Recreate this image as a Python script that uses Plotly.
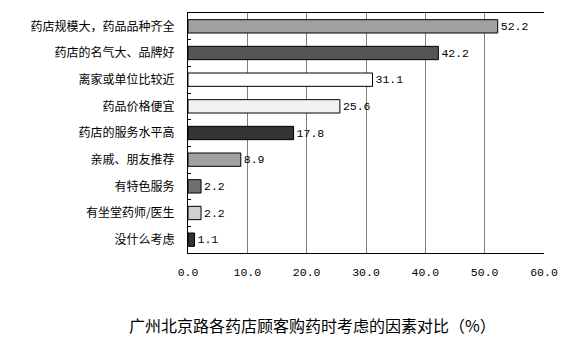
import plotly.graph_objects as go

categories = ["药店规模大，药品品种齐全", "药店的名气大、品牌好", "离家或单位比较近", "药品价格便宜",
              "药店的服务水平高", "亲戚、朋友推荐", "有特色服务", "有坐堂药师/医生", "没什么考虑"]
values = [52.2, 42.2, 31.1, 25.6, 17.8, 8.9, 2.2, 2.2, 1.1]
bar_colors = ["#a0a0a0", "#555555", "#ffffff", "#f2f2f2", "#333333", "#a0a0a0", "#707070", "#d0d0d0", "#333333"]
x_ticks = [0, 10, 20, 30, 40, 50, 60]
x_tick_labels = ["0.0", "10.0", "20.0", "30.0", "40.0", "50.0", "60.0"]
title_text = "广州北京路各药店顾客购药时考虑的因素对比（%）"

mono = "Liberation Mono, DejaVu Sans Mono, monospace"
cjk = "Noto Sans CJK SC, sans-serif"

fig = go.Figure(go.Bar(
    y=categories, x=values, orientation="h",
    marker=dict(color=bar_colors, line=dict(color="#000000", width=1)),
    text=[f"{v:.1f}" for v in values], textposition="outside",
    textfont=dict(family=mono, size=11.5, color="#000000"),
    cliponaxis=False,
))

fig.update_layout(
    width=577, height=362,
    margin=dict(l=188, r=33, t=13, b=109),
    paper_bgcolor="white", plot_bgcolor="white",
    bargap=0.5, showlegend=False,
    xaxis=dict(range=[0, 60], tickvals=x_ticks, ticktext=x_tick_labels,
               showgrid=True, gridcolor="#808080", gridwidth=1,
               showline=True, linecolor="#000000", linewidth=1, mirror=True,
               zeroline=False, ticks="", ticklabelstandoff=8,
               tickfont=dict(family=mono, size=11.5, color="#000000")),
    yaxis=dict(autorange="reversed", showline=True, linecolor="#000000", linewidth=1,
               ticks="inside", ticklen=3, tickcolor="#000000", tickson="boundaries",
               showgrid=False, ticklabelstandoff=10,
               tickfont=dict(family=cjk, size=12, color="#000000")),
    annotations=[dict(text=title_text, xref="paper", yref="paper", x=0.351, y=-0.3,
                      xanchor="center", yanchor="middle", showarrow=False,
                      font=dict(family=cjk, size=16, color="#000000"))],
)

fig.write_html("out.html", config={"displayModeBar": False},
               post_script="document.body.style.margin='0px';")
